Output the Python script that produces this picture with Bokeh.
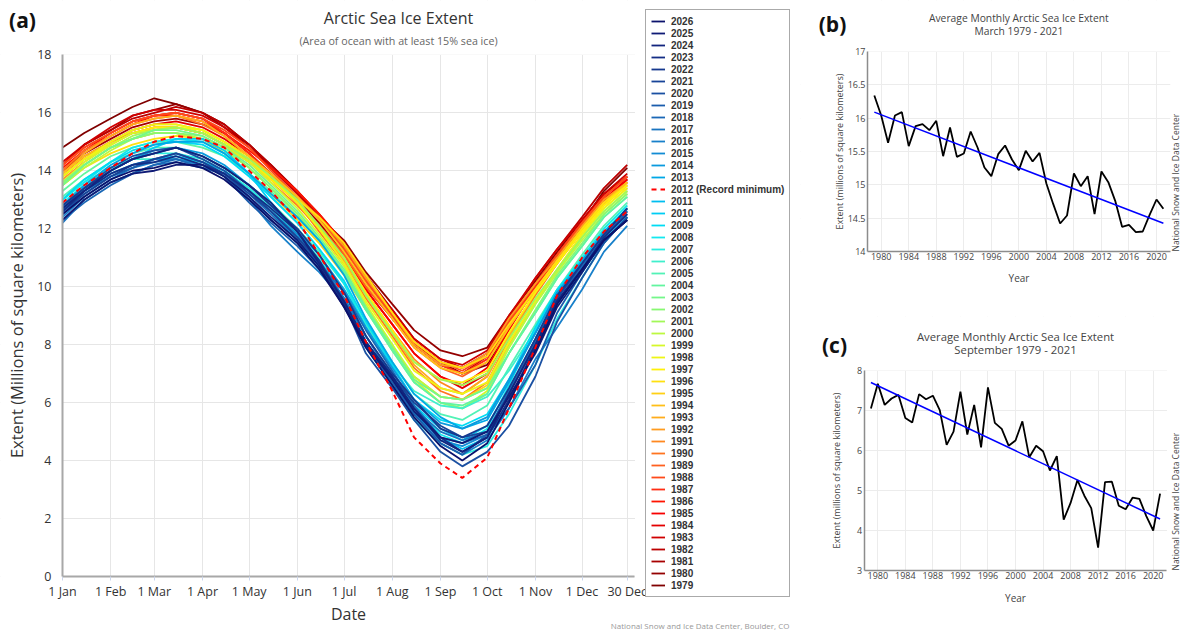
import numpy as np
from bokeh.plotting import figure
from bokeh.layouts import row, column
from bokeh.models import (Label, Legend, LegendItem, FixedTicker, NumeralTickFormatter, Range1d,
                          BoxAnnotation, LinearAxis, Grid)
from bokeh.embed import file_html
from bokeh.resources import INLINE

# ---------------- data: panel (a) daily extent, sampled twice a month ----------------
sample_days = [0, 14, 31, 45, 59, 73, 90, 104, 120, 134, 151, 165, 181, 195, 212, 226, 243, 257, 273, 287, 304, 318, 334, 348, 363]

ext_1979 = [14.8, 15.3, 15.8, 16.2, 16.5, 16.3, 16.0, 15.5, 14.9, 14.2, 13.3, 12.4, 11.4, 10.2, 9.0, 8.0, 7.4, 7.0, 7.3, 8.6, 10.0, 11.0, 12.2, 13.3, 14.1]
ext_1980 = [14.2, 14.9, 15.4, 15.9, 16.1, 16.3, 16.0, 15.6, 14.9, 14.1, 13.2, 12.4, 11.6, 10.5, 9.4, 8.5, 7.8, 7.6, 7.9, 9.0, 10.2, 11.2, 12.3, 13.2, 13.8]
ext_1981 = [14.0, 14.6, 15.1, 15.5, 15.7, 15.8, 15.6, 15.3, 14.6, 13.9, 13.0, 12.2, 11.2, 10.0, 8.9, 8.0, 7.3, 7.0, 7.6, 8.8, 10.1, 11.1, 12.2, 13.0, 13.7]
ext_1982 = [14.2, 14.9, 15.4, 15.8, 16.0, 16.2, 16.0, 15.6, 14.9, 14.2, 13.3, 12.5, 11.5, 10.4, 9.2, 8.2, 7.5, 7.2, 7.7, 8.9, 10.3, 11.3, 12.4, 13.4, 14.2]
ext_1983 = [14.3, 14.9, 15.5, 15.9, 16.1, 16.1, 15.9, 15.5, 14.8, 14.1, 13.2, 12.4, 11.4, 10.3, 9.2, 8.2, 7.5, 7.3, 7.8, 9.0, 10.3, 11.3, 12.3, 13.2, 13.9]
ext_1984 = [13.9, 14.5, 15.0, 15.4, 15.6, 15.7, 15.5, 15.1, 14.5, 13.8, 12.9, 12.1, 11.1, 9.9, 8.7, 7.7, 6.9, 6.5, 7.0, 8.3, 9.8, 10.9, 12.1, 12.9, 13.7]
ext_1985 = [14.0, 14.7, 15.3, 15.7, 15.9, 16.0, 15.8, 15.3, 14.6, 13.8, 12.9, 12.1, 11.1, 9.9, 8.7, 7.7, 6.9, 6.6, 7.2, 8.5, 10.0, 11.0, 12.1, 13.0, 13.7]
ext_1986 = [14.1, 14.7, 15.2, 15.6, 15.9, 15.9, 15.7, 15.3, 14.7, 14.1, 13.3, 12.5, 11.5, 10.3, 9.1, 8.1, 7.4, 7.2, 7.6, 8.8, 10.1, 11.1, 12.2, 13.1, 13.8]
ext_1987 = [14.2, 14.8, 15.3, 15.7, 15.9, 16.0, 15.8, 15.3, 14.6, 13.9, 13.1, 12.3, 11.3, 10.2, 9.0, 8.0, 7.3, 7.0, 7.5, 8.7, 10.0, 11.0, 12.2, 13.1, 13.8]
ext_1988 = [14.2, 14.8, 15.3, 15.7, 15.9, 16.0, 15.8, 15.4, 14.8, 14.0, 13.1, 12.3, 11.3, 10.2, 9.0, 8.1, 7.4, 7.1, 7.6, 8.8, 10.1, 11.1, 12.2, 13.1, 13.8]
ext_1989 = [13.8, 14.4, 15.0, 15.3, 15.4, 15.5, 15.3, 14.9, 14.3, 13.7, 12.9, 12.1, 11.1, 10.0, 8.9, 7.9, 7.2, 6.9, 7.4, 8.6, 9.9, 10.9, 12.0, 12.9, 13.6]
ext_1990 = [14.0, 14.7, 15.2, 15.6, 15.8, 15.9, 15.6, 15.2, 14.5, 13.8, 12.9, 11.9, 10.8, 9.6, 8.3, 7.2, 6.4, 6.1, 6.7, 8.2, 9.7, 10.8, 12.0, 12.9, 13.6]
ext_1991 = [13.8, 14.4, 14.9, 15.3, 15.5, 15.5, 15.3, 14.9, 14.3, 13.6, 12.8, 12.0, 11.0, 9.8, 8.5, 7.5, 6.7, 6.3, 6.9, 8.3, 9.8, 10.8, 11.9, 12.8, 13.5]
ext_1992 = [13.7, 14.3, 14.9, 15.3, 15.5, 15.5, 15.3, 14.9, 14.4, 13.8, 13.1, 12.4, 11.4, 10.3, 9.1, 8.0, 7.3, 7.2, 7.7, 8.9, 10.1, 11.0, 12.1, 13.0, 13.6]
ext_1993 = [13.9, 14.6, 15.2, 15.6, 15.8, 15.9, 15.7, 15.2, 14.5, 13.8, 12.9, 12.0, 10.9, 9.7, 8.4, 7.3, 6.5, 6.3, 6.9, 8.3, 9.8, 10.8, 12.0, 12.9, 13.6]
ext_1994 = [13.9, 14.5, 15.0, 15.4, 15.6, 15.6, 15.4, 15.0, 14.5, 13.9, 13.1, 12.3, 11.2, 10.1, 8.9, 7.9, 7.2, 7.0, 7.4, 8.6, 9.9, 10.9, 12.0, 12.9, 13.6]
ext_1995 = [13.6, 14.2, 14.8, 15.1, 15.3, 15.3, 15.1, 14.6, 13.9, 13.2, 12.3, 11.5, 10.4, 9.2, 7.9, 6.9, 6.2, 6.1, 6.6, 8.0, 9.5, 10.6, 11.8, 12.7, 13.4]
ext_1996 = [13.5, 14.1, 14.6, 14.9, 15.1, 15.2, 15.1, 14.8, 14.3, 13.7, 13.0, 12.4, 11.5, 10.4, 9.1, 8.1, 7.4, 7.2, 7.6, 8.7, 9.9, 10.9, 12.0, 12.9, 13.5]
ext_1997 = [13.8, 14.4, 14.9, 15.3, 15.5, 15.5, 15.4, 15.0, 14.4, 13.7, 12.9, 12.0, 11.0, 9.8, 8.5, 7.4, 6.8, 6.7, 7.1, 8.4, 9.8, 10.8, 11.9, 12.8, 13.5]
ext_1998 = [13.8, 14.4, 15.0, 15.4, 15.6, 15.6, 15.4, 15.0, 14.4, 13.8, 12.9, 12.0, 10.8, 9.5, 8.2, 7.1, 6.5, 6.3, 6.7, 8.1, 9.5, 10.6, 11.8, 12.7, 13.4]
ext_1999 = [13.6, 14.3, 14.9, 15.3, 15.4, 15.5, 15.3, 14.9, 14.3, 13.6, 12.7, 11.8, 10.7, 9.4, 8.0, 6.8, 6.0, 5.8, 6.4, 7.9, 9.4, 10.5, 11.7, 12.6, 13.3]
ext_2000 = [13.5, 14.1, 14.7, 15.1, 15.3, 15.3, 15.1, 14.7, 14.1, 13.4, 12.5, 11.6, 10.5, 9.3, 8.0, 6.9, 6.2, 6.1, 6.5, 7.9, 9.4, 10.5, 11.6, 12.5, 13.2]
ext_2001 = [13.5, 14.2, 14.8, 15.2, 15.4, 15.5, 15.3, 14.9, 14.4, 13.8, 13.0, 12.1, 11.0, 9.7, 8.4, 7.4, 6.8, 6.6, 7.0, 8.2, 9.6, 10.6, 11.7, 12.6, 13.3]
ext_2002 = [13.6, 14.2, 14.8, 15.1, 15.3, 15.3, 15.2, 14.8, 14.1, 13.4, 12.5, 11.6, 10.5, 9.2, 7.8, 6.7, 6.0, 5.8, 6.3, 7.7, 9.2, 10.4, 11.5, 12.5, 13.2]
ext_2003 = [13.5, 14.2, 14.8, 15.1, 15.4, 15.4, 15.2, 14.8, 14.2, 13.5, 12.6, 11.7, 10.6, 9.3, 7.9, 6.8, 6.2, 6.1, 6.5, 7.7, 9.1, 10.3, 11.4, 12.4, 13.1]
ext_2004 = [13.3, 13.9, 14.5, 14.8, 15.0, 15.0, 14.8, 14.5, 13.9, 13.3, 12.4, 11.6, 10.5, 9.2, 7.8, 6.7, 6.0, 5.9, 6.3, 7.7, 9.1, 10.3, 11.4, 12.4, 13.1]
ext_2005 = [13.1, 13.7, 14.3, 14.6, 14.8, 14.8, 14.5, 14.1, 13.5, 12.9, 12.0, 11.2, 10.1, 8.8, 7.4, 6.3, 5.6, 5.4, 5.9, 7.2, 8.7, 9.9, 11.1, 12.1, 12.9]
ext_2006 = [13.0, 13.6, 14.1, 14.4, 14.4, 14.4, 14.3, 14.0, 13.4, 12.7, 11.8, 11.0, 9.9, 8.7, 7.3, 6.4, 5.9, 5.8, 6.2, 7.1, 8.5, 9.7, 10.9, 11.9, 12.7]
ext_2007 = [12.9, 13.5, 14.1, 14.4, 14.6, 14.6, 14.4, 14.0, 13.4, 12.7, 11.8, 10.8, 9.6, 8.1, 6.6, 5.4, 4.6, 4.2, 4.5, 5.6, 7.3, 8.9, 10.3, 11.5, 12.4]
ext_2008 = [13.0, 13.6, 14.3, 14.8, 15.0, 15.1, 15.0, 14.6, 13.9, 13.1, 12.2, 11.3, 10.1, 8.6, 7.1, 5.9, 4.9, 4.6, 5.1, 6.6, 8.5, 9.9, 11.0, 12.0, 12.8]
ext_2009 = [13.0, 13.7, 14.3, 14.7, 14.9, 15.0, 14.9, 14.5, 13.8, 13.1, 12.2, 11.3, 10.2, 8.8, 7.3, 6.1, 5.4, 5.2, 5.6, 6.8, 8.6, 9.9, 10.9, 11.9, 12.7]
ext_2010 = [12.7, 13.4, 14.0, 14.4, 14.8, 15.1, 15.1, 14.7, 13.9, 12.9, 11.9, 10.9, 9.8, 8.3, 6.9, 5.9, 5.1, 4.7, 5.2, 6.5, 8.1, 9.5, 10.5, 11.6, 12.4]
ext_2011 = [12.6, 13.3, 13.9, 14.2, 14.4, 14.5, 14.3, 14.0, 13.3, 12.6, 11.6, 10.7, 9.4, 7.9, 6.6, 5.6, 4.8, 4.4, 4.8, 6.0, 7.9, 9.4, 10.6, 11.6, 12.4]
ext_2012 = [12.9, 13.5, 14.1, 14.6, 15.0, 15.2, 15.1, 14.8, 14.0, 13.3, 12.3, 11.1, 9.7, 8.1, 6.4, 4.8, 3.9, 3.4, 4.1, 5.8, 7.9, 9.7, 11.0, 11.9, 12.6]
ext_2013 = [12.8, 13.5, 14.2, 14.6, 14.9, 15.0, 15.0, 14.6, 13.9, 13.2, 12.4, 11.6, 10.4, 8.9, 7.4, 6.3, 5.5, 5.1, 5.4, 6.7, 8.4, 9.8, 10.9, 11.9, 12.6]
ext_2014 = [12.7, 13.4, 14.0, 14.4, 14.7, 14.8, 14.6, 14.2, 13.5, 12.8, 11.9, 11.1, 9.9, 8.6, 7.2, 6.1, 5.3, 5.1, 5.5, 6.8, 8.4, 9.8, 10.8, 11.8, 12.6]
ext_2015 = [12.6, 13.3, 13.8, 14.1, 14.4, 14.4, 14.2, 13.9, 13.3, 12.6, 11.8, 10.9, 9.6, 8.3, 6.9, 5.7, 4.7, 4.5, 4.9, 6.4, 8.2, 9.7, 10.7, 11.6, 12.4]
ext_2016 = [12.4, 13.1, 13.7, 14.1, 14.3, 14.4, 14.2, 13.8, 13.0, 12.1, 11.2, 10.5, 9.5, 8.1, 6.8, 5.6, 4.6, 4.2, 4.7, 5.8, 7.5, 8.6, 9.9, 11.2, 12.1]
ext_2017 = [12.2, 13.0, 13.6, 13.9, 14.2, 14.3, 14.1, 13.9, 13.2, 12.5, 11.6, 10.8, 9.6, 8.3, 6.9, 5.8, 5.0, 4.7, 5.0, 6.4, 8.2, 9.7, 10.6, 11.5, 12.4]
ext_2018 = [12.3, 12.9, 13.5, 13.9, 14.2, 14.4, 14.1, 13.9, 13.1, 12.3, 11.5, 10.8, 9.8, 8.5, 7.1, 5.9, 4.8, 4.6, 4.9, 6.4, 8.1, 9.6, 10.7, 11.7, 12.5]
ext_2019 = [12.5, 13.2, 13.8, 14.1, 14.4, 14.6, 14.3, 13.8, 12.9, 12.2, 11.4, 10.6, 9.4, 8.0, 6.7, 5.6, 4.6, 4.2, 4.9, 5.8, 7.3, 9.1, 10.5, 11.7, 12.6]
ext_2020 = [12.7, 13.4, 14.1, 14.5, 14.7, 14.8, 14.4, 14.0, 13.3, 12.6, 11.7, 10.8, 9.4, 7.7, 6.5, 5.4, 4.3, 3.8, 4.3, 5.2, 6.9, 8.8, 10.3, 11.5, 12.4]
ext_2021 = [12.6, 13.2, 13.8, 14.2, 14.4, 14.6, 14.3, 13.9, 13.2, 12.6, 11.7, 10.9, 9.5, 8.0, 6.9, 6.0, 5.2, 4.8, 5.0, 6.3, 8.0, 9.6, 10.8, 11.8, 12.7]
ext_2022 = [12.8, 13.4, 14.0, 14.4, 14.6, 14.8, 14.5, 14.1, 13.5, 12.8, 12.0, 11.1, 9.8, 8.3, 7.0, 6.1, 5.1, 4.8, 5.2, 6.5, 8.2, 9.7, 10.8, 11.8, 12.7]
ext_2023 = [12.6, 13.3, 13.9, 14.2, 14.3, 14.5, 14.2, 13.9, 13.3, 12.7, 11.9, 10.9, 9.4, 8.1, 6.9, 5.8, 4.8, 4.3, 4.8, 6.1, 7.9, 9.5, 10.6, 11.7, 12.5]
ext_2024 = [12.7, 13.3, 14.0, 14.4, 14.6, 14.8, 14.5, 14.1, 13.5, 12.9, 11.9, 10.8, 9.5, 8.1, 6.9, 5.8, 4.7, 4.3, 4.8, 6.3, 8.0, 9.5, 10.6, 11.6, 12.3]
ext_2025 = [12.3, 13.0, 13.6, 13.9, 14.0, 14.2, 14.2, 13.8, 13.1, 12.4, 11.6, 10.7, 9.3, 8.0, 6.8, 5.7, 4.8, 4.6, 5.0, 6.2, 7.7, 9.3, 10.5, 11.6, 12.3]
ext_2026 = [12.5, 13.1, 13.7, 14.0, 14.1, 14.3, 14.1, 13.7, 13.0, 12.3, 11.5, 10.6, 9.3, 7.9, 6.6, 5.5, 4.5, 4.0, 4.6, 6.0, 7.8, 9.4, 10.6, 11.6, 12.3]

years_a = [1979, 1980, 1981, 1982, 1983, 1984, 1985, 1986, 1987, 1988, 1989, 1990, 1991, 1992, 1993, 1994,
           1995, 1996, 1997, 1998, 1999, 2000, 2001, 2002, 2003, 2004, 2005, 2006, 2007, 2008, 2009, 2010,
           2011, 2012, 2013, 2014, 2015, 2016, 2017, 2018, 2019, 2020, 2021, 2022, 2023, 2024, 2025, 2026]

month_tick_days = [0, 31, 59, 90, 120, 151, 181, 212, 243, 273, 304, 334, 363]
month_tick_labels = ["1 Jan", "1 Feb", "1 Mar", "1 Apr", "1 May", "1 Jun", "1 Jul",
                     "1 Aug", "1 Sep", "1 Oct", "1 Nov", "1 Dec", "30 Dec"]
extent_ticks = [0, 2, 4, 6, 8, 10, 12, 14, 16, 18]

# ---------------- data: panels (b) and (c) monthly averages ----------------
monthly_years = [1979, 1980, 1981, 1982, 1983, 1984, 1985, 1986, 1987, 1988, 1989, 1990, 1991, 1992, 1993,
                 1994, 1995, 1996, 1997, 1998, 1999, 2000, 2001, 2002, 2003, 2004, 2005, 2006, 2007, 2008,
                 2009, 2010, 2011, 2012, 2013, 2014, 2015, 2016, 2017, 2018, 2019, 2020, 2021]
march_extent = [16.34, 16.04, 15.63, 16.04, 16.09, 15.58, 15.88, 15.91, 15.82, 15.96, 15.43, 15.86, 15.42,
                15.47, 15.80, 15.56, 15.26, 15.13, 15.46, 15.59, 15.38, 15.22, 15.51, 15.35, 15.48, 15.02,
                14.71, 14.42, 14.54, 15.17, 14.98, 15.13, 14.56, 15.20, 15.04, 14.76, 14.37, 14.40, 14.29,
                14.30, 14.55, 14.78, 14.64]
september_extent = [7.05, 7.67, 7.14, 7.30, 7.39, 6.81, 6.70, 7.41, 7.28, 7.37, 7.01, 6.14, 6.47, 7.47, 6.40,
                    7.14, 6.08, 7.58, 6.69, 6.54, 6.12, 6.25, 6.73, 5.83, 6.12, 5.98, 5.50, 5.86, 4.27, 4.69,
                    5.26, 4.87, 4.56, 3.57, 5.21, 5.22, 4.62, 4.53, 4.82, 4.79, 4.36, 4.00, 4.92]
year_ticks = [1980, 1984, 1988, 1992, 1996, 2000, 2004, 2008, 2012, 2016, 2020]
march_ticks = [14, 14.5, 15, 15.5, 16, 16.5, 17]
september_ticks = [3, 4, 5, 6, 7, 8]

# ---------------- styles ----------------
year_colors = ["#800000", "#940000", "#a80000", "#bc0000", "#d00000", "#e40000", "#f80000", "#ff1400",
               "#ff2d14", "#ff4a1a", "#ff6020", "#ff7420", "#ff8820", "#ff9c20", "#ffad1c", "#ffbf18",
               "#ffd014", "#ffe010", "#fff00a", "#eef515", "#d6f72a", "#bdf840", "#a2f858", "#88f872",
               "#74f78a", "#62f5a0", "#52f2b6", "#40efcc", "#2aede0", "#14e8ef", "#00dcf4", "#00cdf4",
               "#00bef0", "#ff0000", "#00a8e6", "#0a9ade", "#128cd4", "#1880ca", "#1a74c0", "#1b68b6",
               "#1b5cac", "#1a50a2", "#184498", "#16398e", "#142e86", "#12247e", "#0f1b76", "#0b126c"]

FONT = "Open Sans"

extent_by_year = {
    1979: ext_1979, 1980: ext_1980, 1981: ext_1981, 1982: ext_1982, 1983: ext_1983, 1984: ext_1984,
    1985: ext_1985, 1986: ext_1986, 1987: ext_1987, 1988: ext_1988, 1989: ext_1989, 1990: ext_1990,
    1991: ext_1991, 1992: ext_1992, 1993: ext_1993, 1994: ext_1994, 1995: ext_1995, 1996: ext_1996,
    1997: ext_1997, 1998: ext_1998, 1999: ext_1999, 2000: ext_2000, 2001: ext_2001, 2002: ext_2002,
    2003: ext_2003, 2004: ext_2004, 2005: ext_2005, 2006: ext_2006, 2007: ext_2007, 2008: ext_2008,
    2009: ext_2009, 2010: ext_2010, 2011: ext_2011, 2012: ext_2012, 2013: ext_2013, 2014: ext_2014,
    2015: ext_2015, 2016: ext_2016, 2017: ext_2017, 2018: ext_2018, 2019: ext_2019, 2020: ext_2020,
    2021: ext_2021, 2022: ext_2022, 2023: ext_2023, 2024: ext_2024, 2025: ext_2025, 2026: ext_2026,
}


# ---------------- layout helpers ----------------
def x_range_from(v0, px0, v1, px1, total):
    """Range whose value v0 falls at pixel px0 and v1 at px1 (pixels from the left)."""
    k = (px1 - px0) / (v1 - v0)
    start = v0 - px0 / k
    return Range1d(start, start + total / k)


def y_range_from(v0, py0, v1, py1, total):
    """Range whose value v0 falls at pixel py0 and v1 at py1 (pixels from the top)."""
    k = (py0 - py1) / (v1 - v0)
    start = v0 - (total - py0) / k
    return Range1d(start, start + total / k)


def text(fig, H, X, Y, txt, size, color="#333333", align="center", style="normal", angle=0.0,
         baseline="middle", font=FONT):
    """Text at pixel (X, Y) from the figure's top-left corner (the frame covers the figure)."""
    fig.add_layout(Label(x=X, y=H - Y, x_units="screen", y_units="screen", text=txt, text_font=font,
                         text_font_size=f"{size}px", text_color=color, text_align=align,
                         text_baseline=baseline, text_font_style=style, angle=angle))


def blank_outside(fig, x0, x1, y0, y1):
    """White boxes outside the plotting rectangle so the grid stops at its edges."""
    for kw in (dict(right=x0), dict(left=x1), dict(top=y0), dict(bottom=y1)):
        fig.add_layout(BoxAnnotation(fill_color="white", fill_alpha=1.0, line_color=None,
                                     level="underlay", **kw))


def style_axis(ax, line_color, line_width, label_size, label_color):
    ax.axis_line_color = line_color
    ax.axis_line_width = line_width
    ax.major_label_text_font = FONT
    ax.major_label_text_font_size = label_size
    ax.major_label_text_color = label_color
    ax.minor_tick_line_color = None
    ax.minor_tick_out = 0
    ax.minor_tick_in = 0
    ax.axis_label_text_font = FONT
    ax.axis_label_text_font_style = "normal"
    ax.axis_label_text_color = label_color


# ================= panel (a) =================
WA, HA = 800, 632
p_a = figure(width=WA, height=HA, output_backend="svg", toolbar_location=None,
             x_axis_location=None, y_axis_location=None,
             x_range=x_range_from(0, 62, 363, 626.7, WA), y_range=y_range_from(0, 576, 18, 54.3, HA),
             min_border=0, min_border_left=0, min_border_right=0, min_border_top=0, min_border_bottom=0)
p_a.outline_line_color = None
p_a.grid.visible = False

p_a.add_layout(Grid(dimension=0, ticker=FixedTicker(ticks=month_tick_days), grid_line_color="#e6e6e6"))
p_a.add_layout(Grid(dimension=1, ticker=FixedTicker(ticks=extent_ticks), grid_line_color="#e6e6e6"))
blank_outside(p_a, 0, 368, 0, 18)

xa = LinearAxis(fixed_location=0, bounds=(0, 368), ticker=FixedTicker(ticks=month_tick_days),
                major_label_overrides={d: lab for d, lab in zip(month_tick_days, month_tick_labels)},
                axis_label="Date")
style_axis(xa, "#a8a8a8", 2, "12.5px", "#333333")
xa.major_tick_line_color = "#ccd6eb"
xa.major_tick_out = 4
xa.major_tick_in = 0
xa.major_label_standoff = 2
xa.axis_label_text_font_size = "16px"
xa.axis_label_standoff = 0
p_a.add_layout(xa, "below")

ya = LinearAxis(fixed_location=0, bounds=(0, 18), ticker=FixedTicker(ticks=extent_ticks),
                axis_label="Extent (Millions of square kilometers)")
style_axis(ya, "#a8a8a8", 2, "12.5px", "#333333")
ya.major_tick_line_color = None
ya.major_tick_out = 0
ya.major_tick_in = 0
ya.major_label_standoff = 11
ya.axis_label_text_font_size = "16.5px"
ya.axis_label_standoff = 6
p_a.add_layout(ya, "left")

renderers = {}
draw_order = [y for y in years_a if y != 2012] + [2012]
for yr in draw_order:
    col = year_colors[years_a.index(yr)]
    if yr == 2012:
        r = p_a.line(sample_days, extent_by_year[yr], line_color=col, line_width=2, line_dash="5 4")
    else:
        r = p_a.line(sample_days, extent_by_year[yr], line_color=col, line_width=1.8)
    renderers[yr] = r

items = []
for yr in reversed(years_a):
    label = "2012 (Record minimum)" if yr == 2012 else str(yr)
    items.append(LegendItem(label=label, renderers=[renderers[yr]]))
legend = Legend(items=items, location=(645, HA - 597), orientation="vertical",
                label_text_font="Liberation Sans", label_text_font_style="bold",
                label_text_font_size="10px", label_text_color="#333333",
                label_height=12, glyph_height=12, glyph_width=14, label_standoff=6,
                spacing=0, padding=5, margin=0,
                border_line_color="#555555", border_line_width=1, background_fill_color="white",
                background_fill_alpha=1.0)
p_a.add_layout(legend)

text(p_a, HA, 22, 19, "(a)", 21, color="#111111", style="bold")
text(p_a, HA, 398, 17.5, "Arctic Sea Ice Extent", 16, color="#333333")
text(p_a, HA, 398, 40, "(Area of ocean with at least 15% sea ice)", 10.7, color="#666666")
text(p_a, HA, 789, 625, "National Snow and Ice Data Center, Boulder, CO", 8, color="#999999",
     align="right")


# ================= panels (b) and (c) =================
def monthly_panel(values, yticks, yrange, x_px, y_px, title_lines, title_size, tag, tag_xy,
                  ylab_standoff, xlab_standoff, credit_x):
    W, H = 382, 316
    (px1980, px2020), (py_lo, py_hi) = x_px, y_px
    ylo, yhi = yrange
    p = figure(width=W, height=H, output_backend="svg", toolbar_location=None,
               x_axis_location=None, y_axis_location=None,
               x_range=x_range_from(1980, px1980, 2020, px2020, W),
               y_range=y_range_from(ylo, py_lo, yhi, py_hi, H),
               min_border=0, min_border_left=0, min_border_right=0, min_border_top=0, min_border_bottom=0)
    p.outline_line_color = None
    p.grid.visible = False
    p.add_layout(Grid(dimension=0, ticker=FixedTicker(ticks=year_ticks), grid_line_color="#ececec"))
    p.add_layout(Grid(dimension=1, ticker=FixedTicker(ticks=yticks), grid_line_color="#ececec"))
    blank_outside(p, 1978, 2022, ylo, yhi)

    xax = LinearAxis(fixed_location=ylo, bounds=(1978, 2022), ticker=FixedTicker(ticks=year_ticks),
                     axis_label="Year")
    style_axis(xax, "#8c8c8c", 1.5, "9px", "#444444")
    xax.major_tick_line_color = None
    xax.major_tick_out = 0
    xax.major_tick_in = 0
    xax.major_label_standoff = 1
    xax.axis_label_text_font_size = "10px"
    xax.axis_label_standoff = xlab_standoff
    p.add_layout(xax, "below")

    yax = LinearAxis(fixed_location=1978, bounds=(ylo, yhi), ticker=FixedTicker(ticks=yticks),
                     axis_label="Extent (millions of square kilometers)",
                     formatter=NumeralTickFormatter(format="0.[0]"))
    style_axis(yax, "#8c8c8c", 1.5, "9px", "#444444")
    yax.major_tick_line_color = None
    yax.major_tick_out = 0
    yax.major_tick_in = 0
    yax.major_label_standoff = 2
    yax.axis_label_text_font_size = "9px"
    yax.axis_label_standoff = ylab_standoff
    p.add_layout(yax, "left")

    p.line(monthly_years, values, line_color="black", line_width=1.8)
    coef = np.polyfit(monthly_years, values, 1)
    ends = [monthly_years[0], monthly_years[-1]]
    p.line(ends, list(np.polyval(coef, ends)), line_color="#0000ff", line_width=1.5)

    frame_left = px1980 - 2 * (px2020 - px1980) / 40
    frame_right = px2020 + 2 * (px2020 - px1980) / 40
    cx = (frame_left + frame_right) / 2
    (t1, y1), (t2, y2) = title_lines
    text(p, H, cx, y1, t1, title_size, color="#444444")
    text(p, H, cx, y2, t2, title_size, color="#444444")
    text(p, H, tag_xy[0], tag_xy[1], tag, 21, color="#111111", style="bold")
    text(p, H, credit_x, py_lo, "National Snow and Ice Data Center", 8.5, color="#444444",
         align="left", angle=np.pi / 2)
    return p


p_b = monthly_panel(march_extent, march_ticks, (14, 17), (80.7, 356.0), (251, 51),
                    [("Average Monthly Arctic Sea Ice Extent", 17), ("March 1979 - 2021", 30)],
                    10.3, "(b)", (32, 23), -1, 8, 375)
p_c = monthly_panel(september_extent, september_ticks, (3, 8), (77.3, 352.7), (254, 54),
                    [("Average Monthly Arctic Sea Ice Extent", 20), ("September 1979 - 2021", 33)],
                    11.3, "(c)", (34, 28), 11, 9, 375)

layout = row(p_a, column(p_b, p_c))
with open("out.html", "w") as f:
    f.write(file_html(layout, INLINE, "Arctic Sea Ice Extent"))
